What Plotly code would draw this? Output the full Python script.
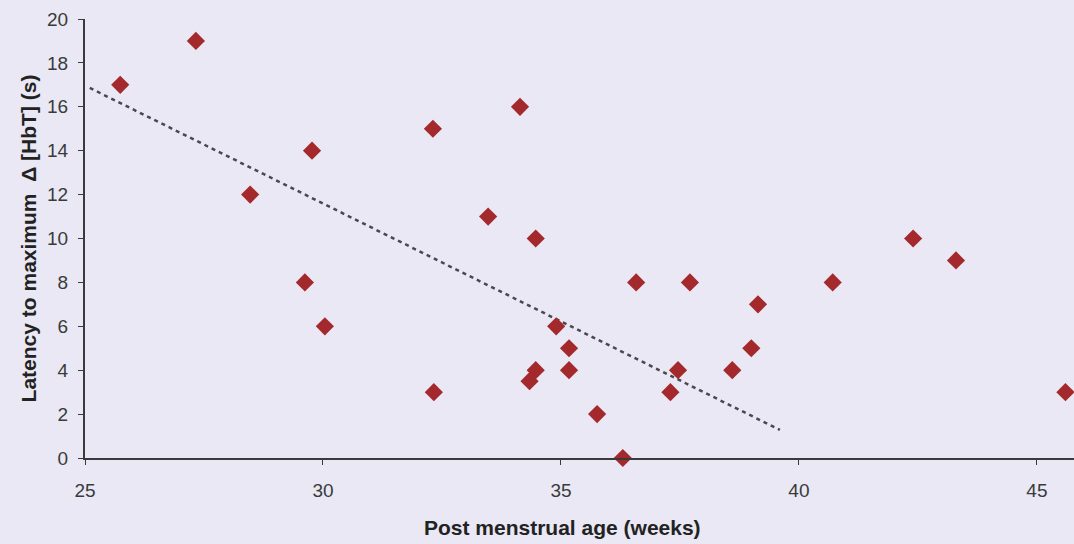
import plotly.graph_objects as go

# Post menstrual age (weeks) and latency to maximum change in HbT (s)
pma_weeks = [25.74, 27.33, 28.47, 29.77, 29.62, 30.04, 32.31, 32.33, 34.14, 33.47,
             34.47, 34.90, 35.17, 35.17, 34.47, 34.34, 35.76, 36.30, 36.58, 37.71,
             37.46, 37.30, 38.60, 39.00, 39.14, 40.71, 42.40, 43.30, 45.60]
latency_s = [17, 19, 12, 14, 8, 6, 15, 3, 16, 11,
             10, 6, 5, 4, 4, 3.5, 2, 0, 8, 8,
             4, 3, 4, 5, 7, 8, 10, 9, 3]

# Linear trend line end points
trend_x = [25.1, 39.6]
trend_y = [16.86, 1.28]

x_ticks = [25, 30, 35, 40, 45]
y_ticks = [0, 2, 4, 6, 8, 10, 12, 14, 16, 18, 20]

bg = "#e9e8f4"
axis_col = "#3a3a3a"

fig = go.Figure()
fig.add_trace(go.Scatter(
    x=trend_x, y=trend_y, mode="lines",
    line=dict(color="#48484e", width=2.5, dash="4px,4px"),
    hoverinfo="skip", showlegend=False,
))
fig.add_trace(go.Scatter(
    x=pma_weeks, y=latency_s, mode="markers",
    marker=dict(symbol="diamond", size=14, color="#a3292c", line=dict(width=0)),
    cliponaxis=False, showlegend=False,
))

fig.update_layout(
    width=1074, height=544,
    margin=dict(l=85, r=0, t=19, b=86),
    paper_bgcolor=bg, plot_bgcolor=bg,
    font=dict(family="Liberation Sans, Arial, sans-serif", color="#333333"),
    xaxis=dict(
        range=[25, 45.78], tickvals=x_ticks, ticks="outside", ticklen=5,
        tickcolor=axis_col, tickwidth=1, showgrid=False, zeroline=False,
        showline=True, linecolor=axis_col, linewidth=2,
        tickfont=dict(size=19, color="#3a3a3a"), ticklabelstandoff=9,
    ),
    yaxis=dict(
        range=[0, 20], tickvals=y_ticks, ticks="outside", ticklen=5,
        tickcolor=axis_col, tickwidth=1, showgrid=False, zeroline=False,
        showline=True, linecolor=axis_col, linewidth=2,
        tickfont=dict(size=19, color="#3a3a3a"), ticklabelstandoff=6,
        title=dict(text="<b>Latency to maximum  Δ [HbT] (s)</b>",
                   font=dict(size=21, color="#222222"), standoff=5),
    ),
    annotations=[dict(
        text="<b>Post menstrual age (weeks)</b>", xref="paper", yref="paper",
        x=0.483, y=-0.159, xanchor="center", yanchor="middle", showarrow=False,
        font=dict(size=21, color="#222222"),
    )],
)

fig.write_html("out.html")
